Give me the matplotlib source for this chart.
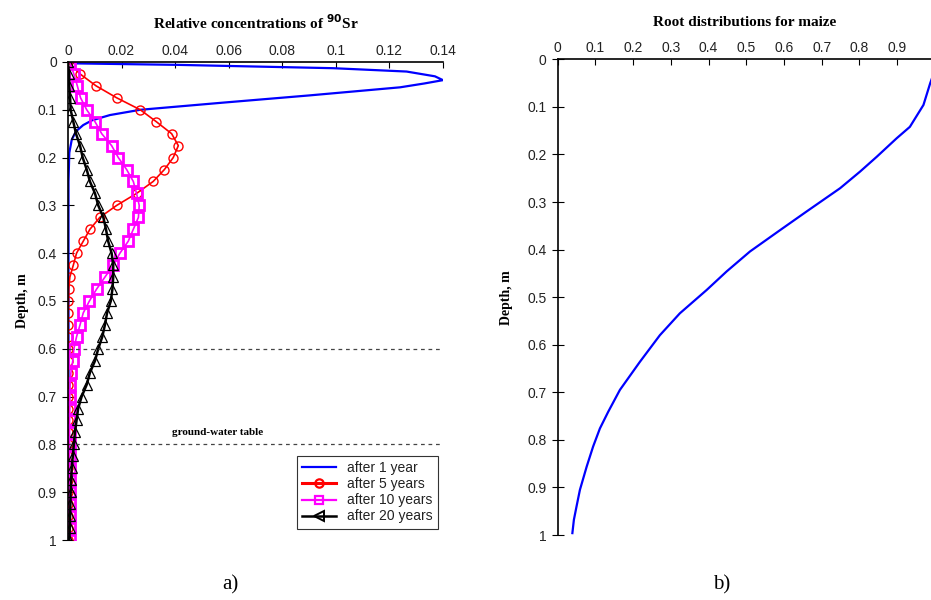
import numpy as np
import matplotlib
matplotlib.use('Agg')
import matplotlib.pyplot as plt
from matplotlib.ticker import FuncFormatter
from matplotlib.lines import Line2D

# sample depths (m) for the 5/10/20 year profiles
depth = [0, 0.025, 0.05, 0.075, 0.1, 0.125, 0.15, 0.175, 0.2, 0.225,
         0.25, 0.275, 0.3, 0.325, 0.35, 0.375, 0.4, 0.425, 0.45, 0.475,
         0.5, 0.525, 0.55, 0.575, 0.6, 0.625, 0.65, 0.675, 0.7, 0.725,
         0.75, 0.775, 0.8, 0.825, 0.85, 0.875, 0.9, 0.925, 0.95, 0.975, 1.0]

conc_5y = [0.0, 0.0045, 0.0105, 0.0182, 0.027, 0.033, 0.0387, 0.0412, 0.0393, 0.036,
           0.0318, 0.0256, 0.0182, 0.0119, 0.0082, 0.0057, 0.0032, 0.002, 0.0007, 0.0003,
           0.0002, 0.0001, 0.0001, 0.0001, 0.0001, 0.0001, 0.0001, 0.0001, 0.0001, 0.0001,
           0.0001, 0.0001, 0.0001, 0.0001, 0.0001, 0.0001, 0.0001, 0.0001, 0.0001, 0.0001, 0.0001]

conc_10y = [0.0007, 0.0022, 0.0035, 0.0047, 0.007, 0.0101, 0.0126, 0.0163, 0.0188, 0.0219,
            0.0244, 0.0256, 0.0266, 0.0263, 0.0244, 0.0225, 0.0194, 0.0169, 0.0138, 0.0107,
            0.008, 0.0057, 0.0045, 0.0032, 0.0022, 0.0018, 0.0011, 0.0008, 0.0007, 0.0007,
            0.0006, 0.0006, 0.0006, 0.0006, 0.0006, 0.0006, 0.0006, 0.0006, 0.0006, 0.0006, 0.0006]

conc_20y = [0.0, 0.0004, 0.0005, 0.0008, 0.001, 0.002, 0.003, 0.0045, 0.0055, 0.007,
            0.0082, 0.0101, 0.0113, 0.0132, 0.0142, 0.015, 0.0163, 0.0169, 0.0169, 0.0166,
            0.016, 0.0146, 0.0138, 0.0128, 0.0113, 0.0101, 0.0082, 0.007, 0.0051, 0.0038,
            0.0032, 0.0026, 0.0022, 0.0018, 0.0014, 0.0012, 0.001, 0.0009, 0.0008, 0.0007, 0.0005]

# after 1 year profile (denser near the surface)
depth_1y = [0, 0.003, 0.006, 0.013, 0.02, 0.03, 0.038, 0.045, 0.053, 0.07,
            0.085, 0.1, 0.111, 0.122, 0.132, 0.145, 0.163, 0.19, 0.25, 1.0]
conc_1y = [0, 0.003, 0.0406, 0.099, 0.1264, 0.137, 0.14, 0.133, 0.124, 0.09,
           0.058, 0.027, 0.0157, 0.009, 0.0057, 0.003, 0.0014, 0.0005, 0.0002, 0.0002]

# root distribution for maize
root_frac = [1.0, 0.997, 0.988, 0.97, 0.934, 0.899, 0.846, 0.802, 0.749, 0.66,
             0.59, 0.51, 0.448, 0.395, 0.324, 0.271, 0.218, 0.165, 0.134, 0.112,
             0.094, 0.077, 0.059, 0.05, 0.043, 0.039]
root_depth = [0.0, 0.03, 0.05, 0.096, 0.142, 0.166, 0.205, 0.236, 0.271, 0.32,
              0.359, 0.404, 0.446, 0.485, 0.534, 0.58, 0.636, 0.695, 0.741, 0.776,
              0.814, 0.856, 0.905, 0.94, 0.968, 0.996]

depth_ticks = [0, 0.1, 0.2, 0.3, 0.4, 0.5, 0.6, 0.7, 0.8, 0.9, 1.0]
conc_ticks = [0, 0.02, 0.04, 0.06, 0.08, 0.1, 0.12, 0.14]
root_ticks = [0, 0.1, 0.2, 0.3, 0.4, 0.5, 0.6, 0.7, 0.8, 0.9]

SANS = 'Liberation Sans'
SERIF = 'Liberation Serif'
fmt = FuncFormatter(lambda v, p: f'{v:g}')


def style_axes(ax):
    for s in ('right', 'bottom'):
        ax.spines[s].set_visible(False)
    for s in ('left', 'top'):
        ax.spines[s].set_linewidth(1.2)
    ax.xaxis.tick_top()
    ax.tick_params(axis='x', direction='in', length=4, pad=3)
    ax.tick_params(axis='y', direction='inout', length=8, pad=4)
    ax.tick_params(labelsize=10, labelcolor='#222222')
    for lab in ax.get_xticklabels() + ax.get_yticklabels():
        lab.set_family(SANS)
    ax.xaxis.set_major_formatter(fmt)
    ax.yaxis.set_major_formatter(fmt)


fig = plt.figure(figsize=(9.31, 6.0), dpi=100)

# a) relative concentrations
ax1 = fig.add_axes([0.0730, 0.1, 0.4028, 0.7967])
ax1.plot(conc_1y, depth_1y, color='blue', lw=1.6)
ax1.plot(conc_5y, depth, color='red', lw=1.2, marker='o', ms=6.5, mfc='none',
         mec='red', mew=1.0)
ax1.plot(conc_10y, depth, color='magenta', lw=1.2, marker='s', ms=7, mfc='none',
         mec='magenta', mew=2.0)
ax1.plot(conc_20y, depth, color='black', lw=1.8, marker='^', ms=6.5, mfc='none',
         mec='black', mew=0.9)
ax1.plot([0, 0.14], [0.6, 0.6], ls=(0, (3, 3)), color='#444444', lw=0.9)
ax1.plot([0, 0.14], [0.8, 0.8], ls=(0, (3, 3)), color='#444444', lw=0.9)
ax1.text(0.056, 0.785, 'ground-water table', family=SERIF, fontweight='bold',
         fontsize=8, ha='center', va='bottom')
ax1.set_xlim(0, 0.14)
ax1.set_ylim(1.0, 0)
ax1.set_xticks(conc_ticks)
ax1.set_yticks(depth_ticks)
style_axes(ax1)
ax1.set_title('Relative concentrations of $^{\\mathbf{90}}$Sr', family=SERIF,
              fontweight='bold', fontsize=11, pad=24)
ax1.set_ylabel('Depth, m', family=SERIF, fontweight='bold', fontsize=10, labelpad=6)

handles = [
    Line2D([], [], color='blue', lw=1.6),
    Line2D([], [], color='red', lw=2.2, marker='o', ms=6, mfc='none', mec='red', mew=1.6),
    Line2D([], [], color='magenta', lw=1.6, marker='s', ms=6, mfc='none', mec='magenta', mew=1.6),
    Line2D([], [], color='black', lw=1.8, marker='<', ms=6.5, mfc='none', mec='black', mew=1.4),
]
labels = ['after 1 year', 'after 5 years', 'after 10 years', 'after 20 years']
leg = ax1.legend(handles, labels, loc='lower right', bbox_to_anchor=(0.987, 0.023),
                 borderaxespad=0, prop={'family': SANS, 'size': 10}, fancybox=False,
                 framealpha=1, edgecolor='#333333', handlelength=2.4, borderpad=0.4,
                 labelspacing=0.15, handletextpad=0.8)
leg.get_frame().set_linewidth(0.8)
for t in leg.get_texts():
    t.set_color('#222222')

# b) root distribution
ax2 = fig.add_axes([0.599, 0.1083, 0.401, 0.7929])
ax2.plot(root_frac, root_depth, color='blue', lw=1.6)
ax2.set_xlim(0, 0.99)
ax2.set_ylim(1.0, 0)
ax2.set_xticks(root_ticks)
ax2.set_yticks(depth_ticks)
style_axes(ax2)
ax2.set_title('Root distributions for maize', family=SERIF, fontweight='bold',
              fontsize=11, pad=24)
ax2.set_ylabel('Depth, m', family=SERIF, fontweight='bold', fontsize=10, labelpad=10)

fig.text(230 / 931, 1 - 585 / 600, 'a)', family=SERIF, fontsize=15, ha='center', va='center')
fig.text(722 / 931, 1 - 585 / 600, 'b)', family=SERIF, fontsize=15, ha='center', va='center')

fig.savefig('out.png', dpi=100)
